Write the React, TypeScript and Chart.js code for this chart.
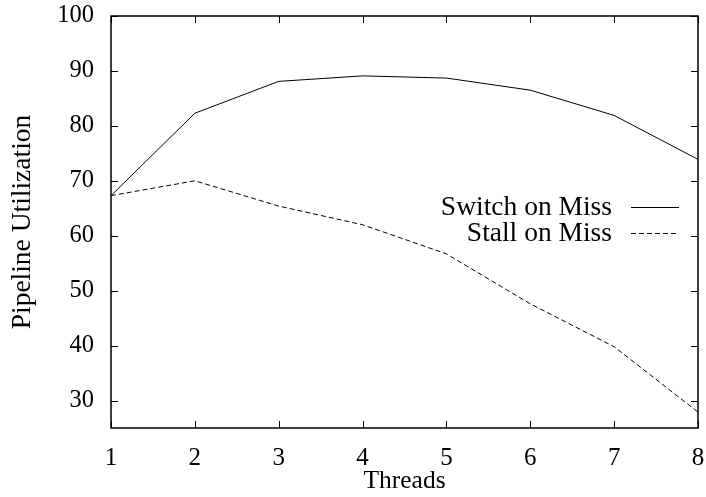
import React, { useEffect, useRef } from "react";
import { Chart, registerables } from "chart.js";

Chart.register(...registerables);

const threads = [1, 2, 3, 4, 5, 6, 7, 8];
const switchOnMiss = [67.3, 82.3, 88.1, 89.1, 88.7, 86.5, 81.9, 73.9];
const stallOnMiss = [67.3, 70.0, 65.4, 62.0, 56.7, 47.6, 39.8, 27.9];
const yTicks = [30, 40, 50, 60, 70, 80, 90, 100];
const seriesLabels = ["Switch on Miss", "Stall on Miss"];

const FONT = "'Liberation Serif', 'Times New Roman', serif";

const framePlugin = {
  id: "gnuFrame",
  afterDraw(chart: any) {
    const { ctx, chartArea } = chart;
    const { left, right, top, bottom } = chartArea;
    const xs = chart.scales.x;
    const ys = chart.scales.y;
    const tl = 7;
    ctx.save();
    ctx.strokeStyle = "#000";
    ctx.lineWidth = 1.5;
    ctx.beginPath();
    ctx.rect(left, top, right - left, bottom - top);
    ctx.stroke();
    ctx.lineWidth = 1;
    ctx.beginPath();
    ys.ticks.forEach((t: any) => {
      const y = Math.round(ys.getPixelForValue(t.value)) + 0.5;
      ctx.moveTo(left, y);
      ctx.lineTo(left + tl, y);
      ctx.moveTo(right, y);
      ctx.lineTo(right - tl, y);
    });
    xs.ticks.forEach((t: any) => {
      const x = Math.round(xs.getPixelForValue(t.value)) + 0.5;
      ctx.moveTo(x, bottom);
      ctx.lineTo(x, bottom - tl);
      ctx.moveTo(x, top);
      ctx.lineTo(x, top + tl);
    });
    ctx.stroke();

    // legend inside plot, gnuplot style
    ctx.font = `27.5px ${FONT}`;
    ctx.fillStyle = "#000";
    ctx.textAlign = "right";
    ctx.textBaseline = "middle";
    const textRight = 612;
    const lx0 = 631;
    const lx1 = 679;
    const rows = [207, 233];
    chart.data.datasets.forEach((ds: any, i: number) => {
      const y = rows[i];
      ctx.fillText(ds.label, textRight, y + 1);
      ctx.beginPath();
      ctx.setLineDash(ds.borderDash || []);
      ctx.lineWidth = 1;
      ctx.moveTo(lx0, y + 0.5);
      ctx.lineTo(lx1, y + 0.5);
      ctx.stroke();
    });
    ctx.restore();
  },
};

export default function App() {
  const ref = useRef<HTMLCanvasElement>(null);
  useEffect(() => {
    if (!ref.current) return;
    const chart = new Chart(ref.current, {
      type: "line",
      data: {
        datasets: [
          {
            label: seriesLabels[0],
            data: threads.map((t, i) => ({ x: t, y: switchOnMiss[i] })),
            borderColor: "#000",
            borderWidth: 1,
            pointRadius: 0,
            fill: false,
            tension: 0,
          },
          {
            label: seriesLabels[1],
            data: threads.map((t, i) => ({ x: t, y: stallOnMiss[i] })),
            borderColor: "#000",
            borderWidth: 1,
            borderDash: [5, 3],
            pointRadius: 0,
            fill: false,
            tension: 0,
          },
        ],
      },
      plugins: [framePlugin],
      options: {
        animation: false,
        responsive: false,
        maintainAspectRatio: false,
        layout: { padding: { top: 16, right: 8, left: 0, bottom: 0 } },
        plugins: { legend: { display: false }, tooltip: { enabled: false } },
        scales: {
          x: {
            type: "linear",
            min: 1,
            max: 8,
            afterBuildTicks: (s: any) => {
              s.ticks = threads.map((v) => ({ value: v }));
            },
            afterFit: (s: any) => {
              s.height = 69;
              s.paddingLeft = 0;
              s.paddingRight = 0;
            },
            grid: { display: false, drawTicks: false },
            border: { display: false },
            ticks: {
              color: "#000",
              font: { family: FONT, size: 25 },
              padding: 15,
              maxRotation: 0,
              autoSkip: false,
            },
            title: {
              display: true,
              text: "Threads",
              color: "#000",
              font: { family: FONT, size: 25.5 },
              padding: { top: -4, bottom: 0 },
            },
          },
          y: {
            type: "linear",
            min: 25,
            max: 100,
            afterBuildTicks: (s: any) => {
              s.ticks = yTicks.map((v) => ({ value: v }));
            },
            afterFit: (s: any) => {
              s.width = 111;
              s.paddingTop = 0;
              s.paddingBottom = 0;
            },
            grid: { display: false, drawTicks: false },
            border: { display: false },
            ticks: {
              color: "#000",
              font: { family: FONT, size: 24.5 },
              padding: 17,
            },
            title: {
              display: true,
              text: "Pipeline Utilization",
              color: "#000",
              font: { family: FONT, size: 27.5 },
              padding: { top: 6.5, bottom: 0 },
            },
          },
        },
      },
    });
    return () => chart.destroy();
  }, []);
  return (
    <div style={{ position: "fixed", left: 0, top: 0, width: 706, height: 497, background: "#fff" }}>
      <canvas ref={ref} width={706} height={497} style={{ display: "block" }} />
    </div>
  );
}
